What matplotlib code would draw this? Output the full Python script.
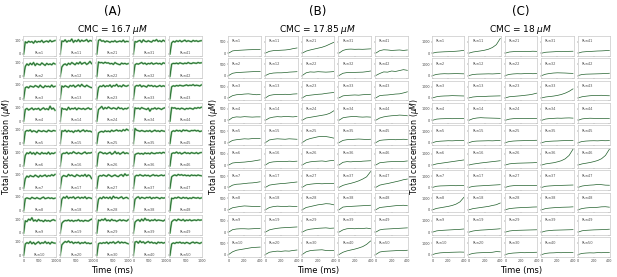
import numpy as np
import matplotlib
matplotlib.use("Agg")
import matplotlib.pyplot as plt

# ---------------- data ----------------
panel_titles = ["(A)", "(B)", "(C)"]
cmc_labels = [r"CMC = 16.7 $\mu M$", r"CMC = 17.85 $\mu M$", r"CMC = 18 $\mu M$"]
t_max = [1000, 400, 400]
x_ticks = [[0, 500, 1000], [0, 200, 400], [0, 200, 400]]
y_ticks = [[0, 100], [0, 500], [0, 1000]]
y_lims = [(-12, 130), (-110, 760), (-220, 1520)]

conc_a = {
    1: [0,88,80,92,85,90,78,95,84,91,87,98,83,90,94,86,99,88,93,97],
    2: [0,72,90,80,95,84,100,78,93,86,82,97,88,79,94,85,90,83,96,89],
    3: [0,80,86,78,92,88,84,95,90,82,98,86,80,94,87,91,84,99,85,90],
    4: [0,84,92,80,87,95,82,90,86,93,79,88,96,84,90,82,108,86,94,78],
    5: [0,86,94,90,98,84,92,88,80,95,90,86,93,88,84,96,90,87,94,91],
    6: [0,76,94,88,100,86,95,82,98,90,84,97,88,92,86,99,84,93,88,95],
    7: [0,70,88,80,92,86,83,95,88,80,93,85,90,96,84,92,88,98,90,100],
    8: [0,86,92,88,84,96,90,86,94,88,84,92,98,86,90,94,88,92,86,90],
    9: [0,88,82,100,92,110,86,94,84,98,88,90,82,94,86,90,84,92,96,90],
    10: [0,82,92,86,100,84,94,80,90,98,84,92,88,100,86,94,82,96,90,88],
    11: [0,94,90,102,86,96,92,108,84,98,90,104,88,100,92,96,104,88,98,94],
    12: [0,68,84,90,80,95,86,100,92,84,98,90,104,88,96,100,86,94,108,92],
    13: [0,92,84,94,88,82,96,90,98,84,92,100,88,104,92,86,98,90,84,80],
    14: [0,94,86,88,80,100,84,92,88,96,82,94,90,86,92,84,90,96,86,88],
    15: [0,92,88,96,84,94,86,90,80,92,88,96,84,92,98,86,94,88,90,84],
    16: [0,84,92,90,98,86,94,90,102,94,88,96,90,86,94,100,88,94,92,96],
    17: [0,80,92,88,84,100,90,96,88,84,98,92,86,94,88,100,84,96,90,70],
    18: [0,82,98,90,104,88,96,92,100,86,94,98,88,96,90,100,86,94,92,88],
    19: [0,70,84,90,88,94,86,92,84,90,88,96,86,90,84,92,88,86,94,100],
    20: [0,76,90,100,94,104,92,98,86,94,90,96,84,92,88,96,86,90,84,88],
    21: [0,98,104,92,96,86,94,90,84,92,88,96,86,90,94,88,100,86,92,90],
    22: [0,104,98,100,94,102,96,98,90,94,86,100,92,88,84,96,90,94,88,92],
    23: [0,80,92,88,98,86,94,90,100,84,96,92,104,88,94,86,100,92,90,96],
    24: [0,84,94,106,86,98,90,102,94,88,96,92,86,100,90,94,84,92,88,96],
    25: [0,76,84,88,82,92,86,90,84,96,88,92,98,90,94,88,100,92,104,96],
    26: [0,90,100,96,88,94,86,92,98,84,90,104,88,96,84,92,100,88,94,90],
    27: [0,84,92,88,96,90,86,98,92,84,90,96,88,84,94,98,86,104,92,96],
    28: [0,82,94,86,100,90,96,88,98,84,104,92,96,88,94,100,86,92,96,88],
    29: [0,94,88,98,92,104,88,94,86,98,90,92,84,90,96,88,94,90,86,96],
    30: [0,84,90,86,92,88,96,84,94,90,98,86,92,100,88,96,90,94,88,84],
    31: [0,90,86,94,98,84,102,92,88,96,90,86,98,94,104,90,96,88,100,92],
    32: [0,84,92,88,94,100,90,96,86,94,90,98,88,92,96,90,94,86,98,94],
    33: [0,88,96,92,100,86,94,90,84,98,92,96,88,94,86,90,96,88,94,90],
    34: [0,96,90,94,86,98,92,88,84,94,72,90,88,96,86,94,90,84,92,96],
    35: [0,108,96,92,88,94,90,86,92,88,94,84,90,96,88,92,86,94,90,88],
    36: [0,82,88,92,86,90,84,94,88,92,86,96,90,88,94,92,96,90,98,94],
    37: [0,86,94,90,98,92,88,96,90,94,86,92,98,90,94,88,92,96,90,94],
    38: [0,82,94,100,86,96,92,88,96,92,98,86,94,90,96,92,86,94,90,92],
    39: [0,78,90,96,84,100,88,106,92,96,86,94,90,98,88,94,92,90,86,94],
    40: [0,96,100,88,104,92,98,86,94,100,90,96,88,92,84,96,90,94,88,92],
    41: [0,80,92,86,96,90,98,88,94,100,90,96,92,88,98,92,96,90,94,96],
    42: [0,88,94,92,96,90,98,94,90,96,92,100,94,92,98,96,94,100,96,98],
    43: [0,86,94,90,96,92,98,94,92,96,100,94,98,96,102,94,98,96,92,100],
    44: [0,98,94,96,88,92,86,94,90,84,92,88,94,90,86,96,92,98,94,100],
    45: [0,84,92,88,96,90,94,86,98,92,96,90,88,94,92,96,90,94,86,90],
    46: [0,88,94,92,100,90,96,86,92,98,90,94,88,96,92,90,96,88,94,96],
    47: [0,82,92,96,90,100,94,98,92,96,90,94,88,96,92,94,90,96,92,90],
    48: [0,90,86,94,90,98,92,88,96,90,94,86,92,88,96,92,90,94,88,92],
    49: [0,80,92,96,88,100,94,90,98,86,94,90,96,88,92,94,90,96,92,94],
    50: [0,82,90,86,94,90,96,88,92,86,94,90,84,92,96,88,94,90,86,92],
}

conc_b = {
    1: [0,100,120,130,140,150,155,160,170],
    2: [0,100,130,140,150,160,170,175,180],
    3: [0,100,140,150,170,180,160,140,150],
    4: [0,120,150,140,160,150,140,150,150],
    5: [0,100,130,150,170,160,180,190,190],
    6: [0,90,110,120,130,150,170,200,230],
    7: [0,100,140,150,170,190,200,220,250],
    8: [0,90,120,150,170,160,150,140,150],
    9: [0,110,140,150,150,140,150,160,170],
    10: [0,120,190,220,250,280,310,320,330],
    11: [0,80,110,120,130,140,160,200,230],
    12: [0,80,110,120,120,130,150,160,170],
    13: [0,110,140,150,150,160,150,170,180],
    14: [0,100,140,160,150,170,160,150,170],
    15: [0,120,150,170,160,150,170,160,150],
    16: [0,110,140,150,160,150,170,160,170],
    17: [0,100,130,150,170,180,200,220,240],
    18: [0,100,140,160,150,140,160,150,140],
    19: [0,100,140,170,190,200,210,220,230],
    20: [0,100,130,150,140,160,150,180,200],
    21: [0,90,140,180,220,260,320,400,480],
    22: [0,120,160,150,170,160,150,160,175],
    23: [0,100,120,140,160,170,200,220,240],
    24: [0,100,130,160,190,220,250,310,420],
    25: [0,120,180,220,260,280,270,240,200],
    26: [0,100,140,160,170,180,160,190,200],
    27: [0,110,140,160,170,160,170,170,180],
    28: [0,100,140,180,220,240,270,260,220],
    29: [0,90,130,150,170,180,190,170,180],
    30: [0,120,170,190,200,210,180,170,180],
    31: [0,120,170,180,170,175,170,180,190],
    32: [0,100,130,140,140,145,150,170,200],
    33: [0,90,110,120,130,120,140,150,160],
    34: [0,110,140,160,170,150,140,150,140],
    35: [0,100,130,140,150,160,150,140,150],
    36: [0,120,150,140,160,150,170,180,190],
    37: [0,90,140,180,230,290,370,470,700],
    38: [0,120,140,150,160,170,180,190,200],
    39: [0,100,150,160,150,170,160,180,150],
    40: [0,100,160,200,240,290,350,450,600],
    41: [0,110,150,140,120,130,140,120,140],
    42: [0,90,160,150,200,180,220,260,230],
    43: [0,100,120,130,150,170,180,220,270],
    44: [0,100,150,180,200,210,230,220,200],
    45: [0,100,120,130,140,130,140,150,140],
    46: [0,100,120,140,150,160,150,160,180],
    47: [0,100,140,170,210,250,290,340,370],
    48: [0,100,120,140,160,180,190,200,180],
    49: [0,100,130,140,150,160,170,180,190],
    50: [0,110,140,150,160,170,180,170,190],
}

conc_c = {
    1: [0,80,100,120,130,150,170,200,250],
    2: [0,100,140,160,150,160,170,160,150],
    3: [0,100,150,170,180,200,190,180,170],
    4: [0,100,130,140,150,140,150,160,150],
    5: [0,100,130,150,170,160,180,190,200],
    6: [0,100,150,200,250,300,350,400,450],
    7: [0,100,130,140,150,160,150,170,160],
    8: [0,120,180,240,300,380,500,700,1100],
    9: [0,110,150,170,190,210,230,250,280],
    10: [0,100,150,170,190,200,210,220,210],
    11: [0,100,150,200,260,350,500,750,1300],
    12: [0,90,120,130,140,150,140,160,170],
    13: [0,80,110,120,130,150,160,170,180],
    14: [0,140,200,230,210,200,190,180,170],
    15: [0,110,140,150,160,170,160,180,190],
    16: [0,80,130,180,220,260,300,340,380],
    17: [0,90,120,140,160,180,200,220,240],
    18: [0,100,150,200,250,300,380,450,600],
    19: [0,100,150,180,200,220,250,270,300],
    20: [0,100,140,160,170,180,200,260,240],
    21: [0,100,130,150,140,160,150,170,160],
    22: [0,100,140,160,150,170,180,160,170],
    23: [0,100,130,160,190,230,270,330,420],
    24: [0,100,140,150,160,150,170,160,150],
    25: [0,100,140,160,170,180,190,200,210],
    26: [0,100,140,160,170,180,190,200,220],
    27: [0,110,150,170,180,170,160,170,160],
    28: [0,100,140,170,190,210,220,240,250],
    29: [0,100,140,160,170,180,190,200,210],
    30: [0,90,130,150,170,160,180,190,200],
    31: [0,80,100,120,140,130,150,160,170],
    32: [0,120,180,220,240,230,220,200,190],
    33: [0,80,120,160,220,300,420,580,800],
    34: [0,110,150,170,190,180,200,210,190],
    35: [0,90,120,140,150,170,180,190,200],
    36: [0,100,150,200,280,380,550,850,1400],
    37: [0,100,130,150,170,180,190,200,210],
    38: [0,110,150,180,200,220,230,240,260],
    39: [0,100,140,170,180,190,200,210,220],
    40: [0,100,140,150,170,160,190,170,180],
    41: [0,100,130,150,170,190,200,220,240],
    42: [0,90,120,130,140,150,160,180,200],
    43: [0,100,150,190,210,220,230,200,190],
    44: [0,120,160,180,170,160,150,160,140],
    45: [0,100,140,160,170,160,180,170,180],
    46: [0,100,160,220,300,400,560,850,1400],
    47: [0,120,170,200,220,260,240,200,190],
    48: [0,110,160,190,200,220,260,270,230],
    49: [0,120,160,180,200,210,220,240,260],
    50: [0,100,130,150,140,170,160,180,170],
}

panels = [conc_a, conc_b, conc_c]

# ---------------- layout ----------------
W, H = 617, 277
fig = plt.figure(figsize=(W / 100, H / 100), dpi=100)
plt.rcParams["font.family"] = ["DejaVu Sans"]

grid_x = [(23, 202), (228, 408), (432, 610)]
grid_top, grid_bot = 36, 257
ylabel_x = [7, 214, 414]

frame_col = "#c8c8c8"
line_dark = "#1f5f2a"
line_light = "#6fbf73"

for p in range(3):
    data = panels[p]
    x0, x1 = grid_x[p]
    gs = fig.add_gridspec(10, 5, left=x0 / W, right=x1 / W,
                          top=1 - grid_top / H, bottom=1 - grid_bot / H,
                          wspace=0.12, hspace=0.14)
    for r in range(10):
        for c in range(5):
            run = c * 10 + r + 1
            ax = fig.add_subplot(gs[r, c])
            vals = np.array(data[run], dtype=float)
            t = np.linspace(0, t_max[p], len(vals))
            if p == 0:
                ax.plot(t, vals, color=line_light, lw=1.4, alpha=0.8)
                ax.plot(t, vals, color=line_dark, lw=0.6)
                ax.text(0.5, 0.12, f"Run{run}", transform=ax.transAxes,
                        ha="center", va="center", fontsize=2.6, color="#555555")
            else:
                ax.plot(t, vals, color=line_dark, lw=0.5)
                ax.text(0.12, 0.72, f"Run{run}", transform=ax.transAxes,
                        ha="left", va="center", fontsize=2.6, color="#555555")
            ax.set_xlim(-0.02 * t_max[p], 1.02 * t_max[p])
            ax.set_ylim(*y_lims[p])
            ax.set_xticks(x_ticks[p])
            ax.set_yticks(y_ticks[p])
            ax.tick_params(length=1, width=0.3, pad=0.6, labelsize=2.4,
                           colors="#444444")
            if c != 0:
                ax.set_yticklabels([])
            if r != 9:
                ax.set_xticklabels([])
            for s in ax.spines.values():
                s.set_color(frame_col)
                s.set_linewidth(0.5)
    xc = (x0 + x1) / 2 / W
    fig.text(xc, 1 - 12 / H, panel_titles[p], ha="center", va="center", fontsize=8.5)
    fig.text(xc, 1 - 29 / H, cmc_labels[p], ha="center", va="center", fontsize=6.5)
    fig.text(xc, 1 - 270 / H, "Time (ms)", ha="center", va="center", fontsize=6)
    fig.text(ylabel_x[p] / W, 1 - (grid_top + grid_bot) / 2 / H,
             r"Total concentration ($\mu M$)", rotation=90,
             ha="center", va="center", fontsize=5.6)

fig.savefig("out.png", dpi=100)
